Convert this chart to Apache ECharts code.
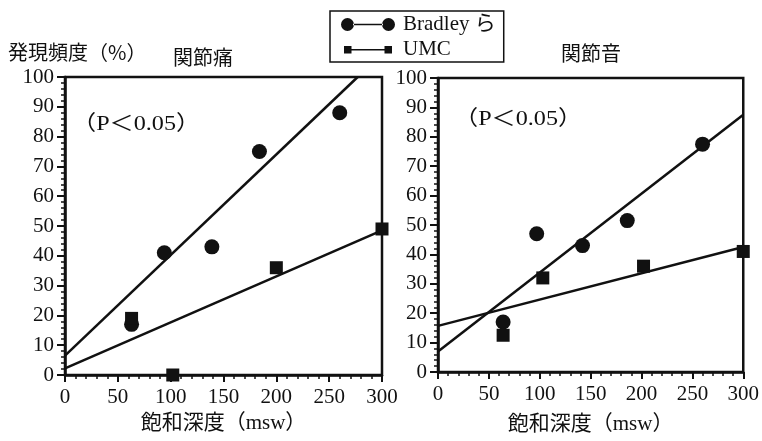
<!DOCTYPE html>
<html>
<head>
<meta charset="utf-8">
<script src="https://cdn.jsdelivr.net/npm/echarts@6/dist/echarts.min.js"></script>
<style>
  html, body { margin: 0; padding: 0; background: #fff; }
  #chart { width: 762px; height: 441px; }
</style>
</head>
<body>
<div id="chart"></div>
<script>
// Incidence (%) versus saturation depth (msw)
const seriesNames = ['Bradley ら', 'UMC'];
const panelTitles = ['関節痛', '関節音'];
const yTitle = '発現頻度（%）';
const xTitle = '飽和深度（msw）';
const pNote = '（P＜0.05）';

// 関節痛 (joint pain)
const painBradley = [[63, 17], [94, 41], [139, 43], [184, 75], [260, 88]];
const painUMC = [[63, 19], [102, 0], [200, 36], [300, 49]];
const painBradleyFit = [[0, 6.5], [277, 100]];
const painUMCFit = [[0, 2.2], [300, 48.5]];

// 関節音 (joint noise)
const noiseBradley = [[64, 17], [97, 47], [142, 43], [186, 51.5], [260, 77.5]];
const noiseUMC = [[64, 12.5], [103, 32], [202, 36], [300, 41]];
const noiseBradleyFit = [[0, 7], [300, 87.5]];
const noiseUMCFit = [[0, 15.7], [300, 42.5]];

const xTicks = [0, 50, 100, 150, 200, 250, 300];
const yTicks = [0, 10, 20, 30, 40, 50, 60, 70, 80, 90, 100];

const SERIF = '"Liberation Serif", "Noto Sans CJK JP", serif';
const CJK = '"Noto Sans CJK JP", "Liberation Serif", sans-serif';
const INK = '#111';

const chart = echarts.init(document.getElementById('chart'), null, { renderer: 'canvas' });

const grids = [
  { left: 65, top: 77, width: 317, height: 298 },
  { left: 438, top: 78, width: 306, height: 294 }
];

function xAxisFor(gi, gap) {
  return {
    type: 'value', gridIndex: gi, position: 'bottom',
    min: xTicks[0], max: xTicks[xTicks.length - 1], interval: xTicks[1] - xTicks[0],
    name: xTitle, nameLocation: 'middle', nameGap: gap,
    nameTextStyle: { fontFamily: SERIF, fontSize: 21, color: INK },
    axisLine: { show: true, onZero: false, lineStyle: { color: INK, width: 2.5 } },
    axisTick: { show: true, inside: false, length: 7, lineStyle: { color: INK, width: 2 } },
    minorTick: { show: true, splitNumber: 5, length: 4, lineStyle: { color: INK, width: 1.5 } },
    axisLabel: { margin: 12, fontFamily: SERIF, fontSize: 21, color: INK },
    splitLine: { show: false }, minorSplitLine: { show: false }
  };
}
function yAxisFor(gi) {
  return {
    type: 'value', gridIndex: gi, position: 'left',
    min: yTicks[0], max: yTicks[yTicks.length - 1], interval: yTicks[1] - yTicks[0],
    axisLine: { show: true, onZero: false, lineStyle: { color: INK, width: 2.5 } },
    axisTick: { show: true, inside: false, length: 8, lineStyle: { color: INK, width: 2 } },
    minorTick: { show: true, splitNumber: 5, length: 4, lineStyle: { color: INK, width: 1.5 } },
    axisLabel: { margin: 11, fontFamily: SERIF, fontSize: 21, color: INK },
    splitLine: { show: false }, minorSplitLine: { show: false }
  };
}

function fitLine(name, data, xi, yi) {
  return {
    name: name, type: 'line', xAxisIndex: xi, yAxisIndex: yi,
    data: data, symbol: 'none', silent: true, z: 2,
    lineStyle: { color: INK, width: 2.5 }
  };
}
function dots(name, data, xi, yi, symbol, size) {
  return {
    name: name, type: 'scatter', xAxisIndex: xi, yAxisIndex: yi,
    data: data, symbol: symbol, symbolSize: size, z: 3,
    itemStyle: { color: INK, opacity: 1 }
  };
}

// legend keys: marker - line - marker
const circleIcon = 'path://M0,6.5a6.5,6.5 0 1,0 13,0a6.5,6.5 0 1,0 -13,0Z M41,6.5a6.5,6.5 0 1,0 13,0a6.5,6.5 0 1,0 -13,0Z M12,5.7L42,5.7L42,7.3L12,7.3Z';
const squareIcon = 'path://M3,3h7.5v7.5h-7.5Z M43.5,3h7.5v7.5h-7.5Z M10,6L44,6L44,7.5L10,7.5Z M0,0h0.01v0.01h-0.01Z M54,13h-0.01v-0.01h0.01Z';

const option = {
  backgroundColor: '#fff',
  animation: false,
  grid: grids.map(g => Object.assign({ show: true, borderColor: INK, borderWidth: 2.5, backgroundColor: 'transparent' }, g)),
  xAxis: [xAxisFor(0, 38), xAxisFor(1, 42)],
  yAxis: [yAxisFor(0), yAxisFor(1)],
  legend: {
    orient: 'vertical', left: 330, top: 11,
    padding: [3, 8, 2, 11], itemGap: 4,
    itemWidth: 54, itemHeight: 13,
    backgroundColor: '#fff', borderColor: INK, borderWidth: 1.5, borderRadius: 0,
    selectedMode: false,
    textStyle: { fontFamily: SERIF, fontSize: 21, color: INK, padding: [0, 0, 0, 3] },
    data: [
      { name: seriesNames[0], icon: circleIcon, itemStyle: { color: INK } },
      { name: seriesNames[1], icon: squareIcon, itemStyle: { color: INK } }
    ]
  },
  graphic: [
    { type: 'text', left: 8, top: 42, style: { text: yTitle, font: '20px ' + CJK, fill: INK } },
    { type: 'text', left: 173, top: 47, style: { text: panelTitles[0], font: '20px ' + CJK, fill: INK } },
    { type: 'text', left: 561, top: 43, style: { text: panelTitles[1], font: '20px ' + CJK, fill: INK } },
    { type: 'text', x: 72, y: 114, scaleX: 1.15, style: { text: pNote, font: '21px ' + SERIF, fill: INK } },
    { type: 'text', x: 454, y: 109, scaleX: 1.15, style: { text: pNote, font: '21px ' + SERIF, fill: INK } }
  ],
  series: [
    fitLine('painBradleyFit', painBradleyFit, 0, 0),
    fitLine('painUMCFit', painUMCFit, 0, 0),
    dots(seriesNames[0], painBradley, 0, 0, 'circle', 15),
    dots(seriesNames[1], painUMC, 0, 0, 'rect', 13),
    fitLine('noiseBradleyFit', noiseBradleyFit, 1, 1),
    fitLine('noiseUMCFit', noiseUMCFit, 1, 1),
    dots(seriesNames[0], noiseBradley, 1, 1, 'circle', 15),
    dots(seriesNames[1], noiseUMC, 1, 1, 'rect', 13)
  ]
};

chart.setOption(option);
</script>
</body>
</html>
